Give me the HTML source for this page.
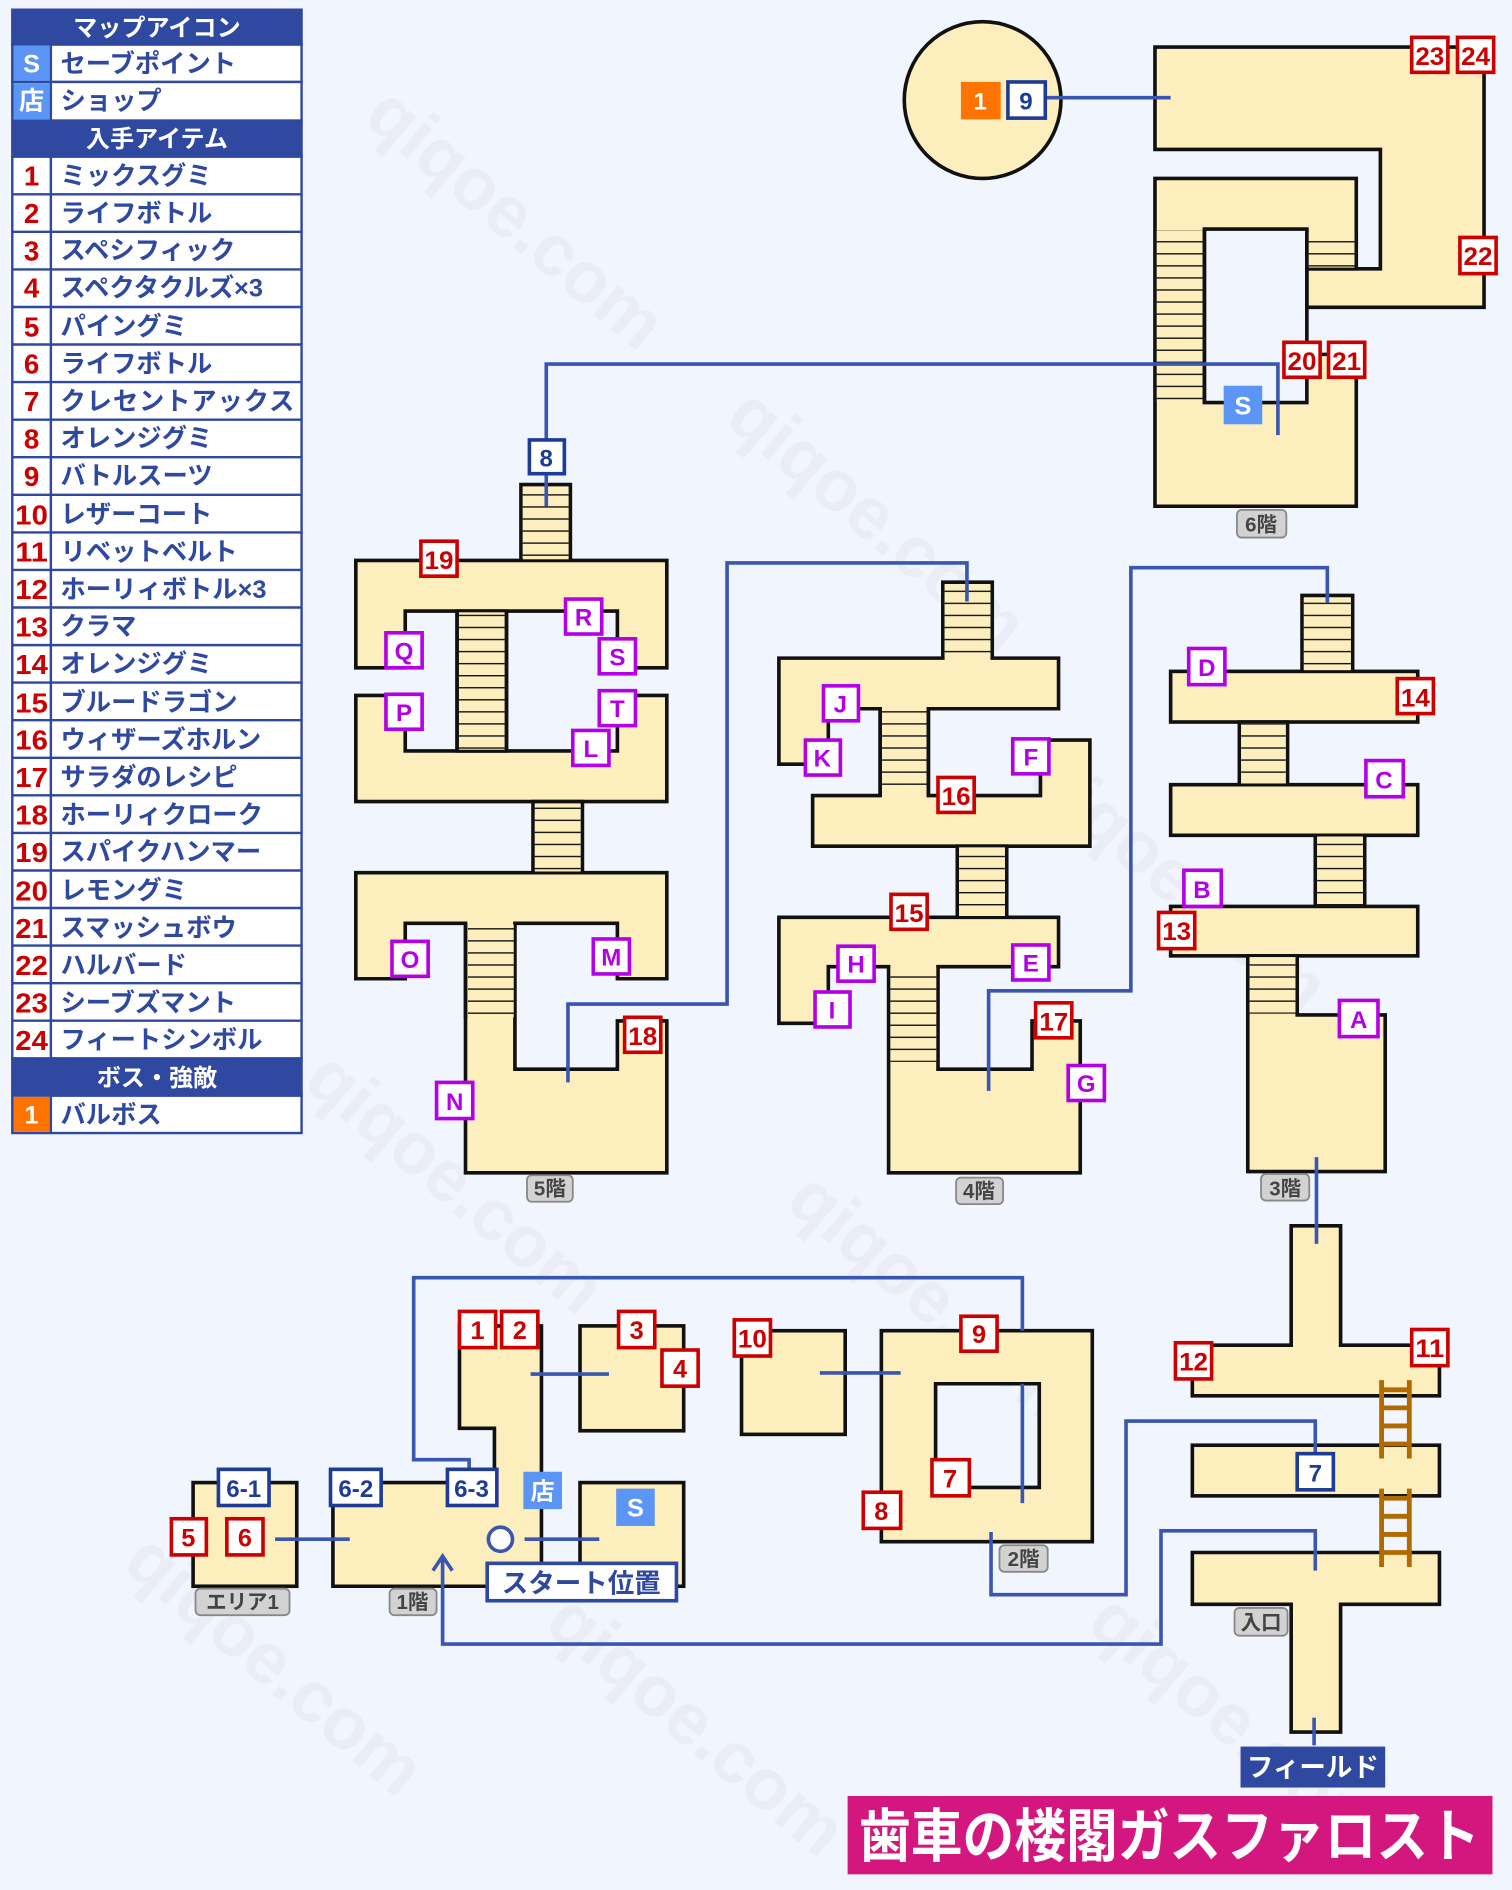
<!DOCTYPE html>
<html><head><meta charset="utf-8"><style>
html,body{margin:0;padding:0;background:#f0f5fe;}
svg{display:block;}
text{font-family:"Liberation Sans","Noto Sans CJK JP",sans-serif;font-weight:bold;}
</style></head><body>
<svg width="1512" height="1890" viewBox="0 0 1254 1568" xmlns="http://www.w3.org/2000/svg">
<defs>
<pattern id="st" patternUnits="userSpaceOnUse" width="10" height="10"><rect width="10" height="10" fill="#fdeebd"/><line x1="0" y1="0.5" x2="10" y2="0.5" stroke="#111" stroke-width="1.3"/></pattern>
</defs>
<rect width="1254" height="1568" fill="#f0f5fe"/>
<g fill="#e4e4ee" font-size="60" opacity="0.5">
<text transform="translate(300,100) rotate(40)">qiqoe.com</text>
<text transform="translate(600,350) rotate(40)">qiqoe.com</text>
<text transform="translate(850,650) rotate(40)">qiqoe.com</text>
<text transform="translate(250,900) rotate(40)">qiqoe.com</text>
<text transform="translate(650,1000) rotate(40)">qiqoe.com</text>
<text transform="translate(100,1300) rotate(40)">qiqoe.com</text>
<text transform="translate(450,1350) rotate(40)">qiqoe.com</text>
<text transform="translate(900,1350) rotate(40)">qiqoe.com</text>
</g>

<!-- LEGEND -->
<g stroke="#2f48a0" stroke-width="2">
<rect x="10" y="8" width="240" height="29" fill="#2f48a0"/>
<rect x="10" y="101" width="240" height="29" fill="#2f48a0"/>
<rect x="10" y="878" width="240" height="31" fill="#2f48a0"/>
</g>
<g font-size="20" fill="#fff" text-anchor="middle">
<text x="130" y="30">マップアイコン</text>
<text x="130" y="122">入手アイテム</text>
<text x="130" y="901">ボス・強敵</text>
</g>
<g stroke="#2f48a0" stroke-width="2" fill="#fff">
<rect x="10" y="37" width="240" height="31"/><rect x="10" y="68" width="240" height="32"/>
<rect x="10" y="909" width="240" height="31"/>
</g>
<rect x="11" y="38" width="30" height="29" fill="#5b95f5"/>
<rect x="11" y="69" width="30" height="30" fill="#5b95f5"/>
<rect x="11" y="910" width="30" height="29" fill="#ff7300"/>
<g stroke="#2f48a0" stroke-width="2"><line x1="42" y1="37" x2="42" y2="100"/><line x1="42" y1="909" x2="42" y2="940"/></g>
<g font-size="21" fill="#fff" text-anchor="middle"><text x="26" y="60">S</text><text x="26" y="91">店</text><text x="26" y="932">1</text></g>
<g font-size="21" fill="#2f48a0"><text x="50" y="60">セーブポイント</text><text x="50" y="91">ショップ</text><text x="50" y="932">バルボス</text></g>

<g stroke="#2f48a0" stroke-width="2" fill="#fff">
<rect x="10" y="130" width="240" height="748"/>
</g>
<g stroke="#2f48a0" stroke-width="2">
<line x1="42" y1="130" x2="42" y2="878"/>
<line x1="10" y1="161.2" x2="250" y2="161.2"/><line x1="10" y1="192.3" x2="250" y2="192.3"/><line x1="10" y1="223.5" x2="250" y2="223.5"/><line x1="10" y1="254.7" x2="250" y2="254.7"/><line x1="10" y1="285.8" x2="250" y2="285.8"/><line x1="10" y1="317" x2="250" y2="317"/><line x1="10" y1="348.2" x2="250" y2="348.2"/><line x1="10" y1="379.3" x2="250" y2="379.3"/><line x1="10" y1="410.5" x2="250" y2="410.5"/><line x1="10" y1="441.7" x2="250" y2="441.7"/><line x1="10" y1="472.8" x2="250" y2="472.8"/><line x1="10" y1="504" x2="250" y2="504"/><line x1="10" y1="535.2" x2="250" y2="535.2"/><line x1="10" y1="566.3" x2="250" y2="566.3"/><line x1="10" y1="597.5" x2="250" y2="597.5"/><line x1="10" y1="628.7" x2="250" y2="628.7"/><line x1="10" y1="659.8" x2="250" y2="659.8"/><line x1="10" y1="691" x2="250" y2="691"/><line x1="10" y1="722.2" x2="250" y2="722.2"/><line x1="10" y1="753.3" x2="250" y2="753.3"/><line x1="10" y1="784.5" x2="250" y2="784.5"/><line x1="10" y1="815.7" x2="250" y2="815.7"/><line x1="10" y1="846.8" x2="250" y2="846.8"/>
</g>
<g font-size="23" fill="#cc0000" text-anchor="middle">
<text x="26" y="154">1</text><text x="26" y="185">2</text><text x="26" y="216">3</text><text x="26" y="247">4</text><text x="26" y="279">5</text><text x="26" y="310">6</text><text x="26" y="341">7</text><text x="26" y="372">8</text><text x="26" y="403">9</text><text x="26" y="435" textLength="27" lengthAdjust="spacingAndGlyphs">10</text><text x="26" y="466" textLength="27" lengthAdjust="spacingAndGlyphs">11</text><text x="26" y="497" textLength="27" lengthAdjust="spacingAndGlyphs">12</text><text x="26" y="528" textLength="27" lengthAdjust="spacingAndGlyphs">13</text><text x="26" y="559" textLength="27" lengthAdjust="spacingAndGlyphs">14</text><text x="26" y="591" textLength="27" lengthAdjust="spacingAndGlyphs">15</text><text x="26" y="622" textLength="27" lengthAdjust="spacingAndGlyphs">16</text><text x="26" y="653" textLength="27" lengthAdjust="spacingAndGlyphs">17</text><text x="26" y="684" textLength="27" lengthAdjust="spacingAndGlyphs">18</text><text x="26" y="715" textLength="27" lengthAdjust="spacingAndGlyphs">19</text><text x="26" y="747" textLength="27" lengthAdjust="spacingAndGlyphs">20</text><text x="26" y="778" textLength="27" lengthAdjust="spacingAndGlyphs">21</text><text x="26" y="809" textLength="27" lengthAdjust="spacingAndGlyphs">22</text><text x="26" y="840" textLength="27" lengthAdjust="spacingAndGlyphs">23</text><text x="26" y="871" textLength="27" lengthAdjust="spacingAndGlyphs">24</text>
</g>
<g font-size="21" fill="#2f48a0">
<text x="50" y="153">ミックスグミ</text><text x="50" y="184">ライフボトル</text><text x="50" y="215">スペシフィック</text><text x="50" y="246">スペクタクルズ×3</text><text x="50" y="278">パイングミ</text><text x="50" y="309">ライフボトル</text><text x="50" y="340" textLength="194">クレセントアックス</text><text x="50" y="371">オレンジグミ</text><text x="50" y="402">バトルスーツ</text><text x="50" y="434">レザーコート</text><text x="50" y="465">リベットベルト</text><text x="50" y="496">ホーリィボトル×3</text><text x="50" y="527">クラマ</text><text x="50" y="558">オレンジグミ</text><text x="50" y="590">ブルードラゴン</text><text x="50" y="621">ウィザーズホルン</text><text x="50" y="652">サラダのレシピ</text><text x="50" y="683">ホーリィクローク</text><text x="50" y="714">スパイクハンマー</text><text x="50" y="746">レモングミ</text><text x="50" y="777">スマッシュボウ</text><text x="50" y="808">ハルバード</text><text x="50" y="839">シーブズマント</text><text x="50" y="870">フィートシンボル</text>
</g>

<!-- ROOMS -->
<g fill="#fdeebd" stroke="#111" stroke-width="3" stroke-linejoin="miter">
<circle cx="815" cy="83" r="65"/>
<polygon points="958,39 1231,39 1231,255 1084,255 1084,223 1145,223 1145,124 958,124"/>
<path fill-rule="evenodd" d="M958,148 H1125 V223 H1084 V294 H1125 V420 H958 Z M999,190 H1084 V334 H999 Z"/>
<rect x="432" y="402" width="41" height="63"/>
<polygon points="295,465 553,465 553,554 512,554 512,507 336,507 336,554 295,554"/>
<polygon points="295,577 336,577 336,623 512,623 512,577 553,577 553,665 295,665"/>
<rect x="379" y="507" width="41" height="116"/>
<rect x="442" y="665" width="41" height="59"/>
<polygon points="295,724 553,724 553,812 512,812 512,766 427,766 427,887 512,887 512,847 553,847 553,973 386,973 386,766 336,766 336,812 295,812"/>
<polygon points="646,546 782,546 782,483 823,483 823,546 878,546 878,588 770,588 770,660 863,660 863,614 904,614 904,702 674,702 674,660 730,660 730,588 687,588 687,634 646,634"/>
<rect x="794" y="702" width="41" height="59"/>
<polygon points="646,761 878,761 878,802 778,802 778,887 856,887 856,847 896,847 896,973 737,973 737,802 687,802 687,849 646,849"/>
<rect x="1080" y="494" width="42" height="63"/>
<rect x="971" y="557" width="205" height="42"/>
<rect x="1028" y="599" width="40" height="52"/>
<rect x="971" y="651" width="205" height="42"/>
<rect x="1091" y="693" width="41" height="59"/>
<rect x="971" y="752" width="205" height="41"/>
<polygon points="1035,793 1076,793 1076,842 1149,842 1149,972 1035,972"/>
<polygon points="1071,1017 1112,1017 1112,1116 1194,1116 1194,1158 989,1158 989,1116 1071,1116"/>
<rect x="989" y="1199" width="205" height="42"/>
<polygon points="989,1288 1194,1288 1194,1331 1112,1331 1112,1437 1071,1437 1071,1331 989,1331"/>
<rect x="615" y="1104" width="86" height="86"/>
<path fill-rule="evenodd" d="M731,1104 H906 V1279 H731 Z M776,1148 H862 V1234 H776 Z"/>
<rect x="481" y="1100" width="86" height="87"/>
<polygon points="381,1100 449,1100 449,1316 276,1316 276,1230 410,1230 410,1185 381,1185"/>
<rect x="481" y="1230" width="86" height="86"/>
<rect x="160" y="1230" width="86" height="86"/>
</g>
<g fill="url(#st)">
<rect x="433.5" y="404" width="38" height="60"/>
<rect x="380.5" y="508" width="38" height="114"/>
<rect x="443.5" y="667" width="38" height="56"/>
<rect x="388" y="767" width="38" height="77"/>
<rect x="783.5" y="485" width="38" height="60"/>
<rect x="731.5" y="589" width="37" height="70"/>
<rect x="795.5" y="703" width="38" height="57"/>
<rect x="738.5" y="803" width="38" height="78"/>
<rect x="1081.5" y="496" width="39" height="60"/>
<rect x="1029.5" y="600" width="37" height="50"/>
<rect x="1092.5" y="694" width="38" height="57"/>
<rect x="1036.5" y="794" width="38" height="47"/>
<rect x="959.5" y="191" width="38" height="142"/>
<rect x="1085.5" y="193" width="38" height="29"/>
</g>
<g stroke="#111" stroke-width="3">
<line x1="379" y1="507" x2="379" y2="623"/><line x1="420" y1="507" x2="420" y2="623"/>
<line x1="386" y1="766" x2="386" y2="845"/>
<line x1="730" y1="588" x2="730" y2="660"/><line x1="770" y1="588" x2="770" y2="660"/>
<line x1="999" y1="190" x2="999" y2="334"/><line x1="1084" y1="190" x2="1084" y2="224"/>
</g>
<g stroke="#b06a00" stroke-width="4">
<line x1="1146" y1="1145" x2="1146" y2="1210"/><line x1="1169" y1="1145" x2="1169" y2="1210"/>
<line x1="1146" y1="1153" x2="1169" y2="1153"/><line x1="1146" y1="1168" x2="1169" y2="1168"/><line x1="1146" y1="1183" x2="1169" y2="1183"/><line x1="1146" y1="1198" x2="1169" y2="1198"/>
<line x1="1146" y1="1235" x2="1146" y2="1300"/><line x1="1169" y1="1235" x2="1169" y2="1300"/>
<line x1="1146" y1="1243" x2="1169" y2="1243"/><line x1="1146" y1="1258" x2="1169" y2="1258"/><line x1="1146" y1="1273" x2="1169" y2="1273"/><line x1="1146" y1="1288" x2="1169" y2="1288"/>
</g>

<g fill="none" stroke="#3a56b0" stroke-width="3">
<line x1="866" y1="81" x2="971" y2="81"/>
<polyline points="453,420 453,302 1060,302 1060,361"/>
<polyline points="471,898 471,833 603,833 603,467 802,467 802,499"/>
<polyline points="820,905 820,822 938,822 938,471 1101,471 1101,500"/>
<line x1="1092" y1="960" x2="1092" y2="1032"/>
<line x1="1090" y1="1425" x2="1090" y2="1448"/>
<polyline points="1091,1205 1091,1179 934,1179 934,1323 822,1323 822,1271"/>
<polyline points="1091,1303 1091,1270 963,1270 963,1364 367,1364 367,1291"/>
<polyline points="359,1303 367,1291 375,1303"/>
<polyline points="389,1220 389,1211 343,1211 343,1060 848,1060 848,1104"/>
<line x1="848" y1="1148" x2="848" y2="1247"/>
<line x1="680" y1="1139" x2="747" y2="1139"/>
<line x1="440" y1="1140" x2="505" y2="1140"/>
<line x1="228" y1="1277" x2="290" y2="1277"/>
<line x1="435" y1="1277" x2="497" y2="1277"/>
</g>
<circle cx="415" cy="1277" r="10" fill="#fff" stroke="#3a56b0" stroke-width="3"/>

<g fill="#fff" stroke="#cc0000" stroke-width="3">
<rect x="1171" y="31" width="30" height="29"/><rect x="1209" y="31" width="30" height="29"/><rect x="1211" y="197" width="30" height="30"/>
<rect x="1065" y="284" width="30" height="29"/><rect x="1102" y="284" width="30" height="29"/>
<rect x="349" y="449" width="30" height="29"/><rect x="518" y="844" width="30" height="29"/>
<rect x="778" y="645" width="30" height="29"/><rect x="739" y="742" width="30" height="29"/><rect x="859" y="832" width="30" height="29"/>
<rect x="1159" y="563" width="30" height="29"/><rect x="961" y="757" width="30" height="30"/>
<rect x="975" y="1114" width="30" height="30"/><rect x="1171" y="1103" width="30" height="30"/>
<rect x="797" y="1092" width="30" height="29"/><rect x="609" y="1095" width="30" height="30"/><rect x="773" y="1211" width="31" height="30"/><rect x="716" y="1238" width="31" height="30"/>
<rect x="381" y="1088" width="30" height="30"/><rect x="416" y="1088" width="30" height="30"/><rect x="513" y="1088" width="30" height="30"/><rect x="549" y="1120" width="30" height="30"/>
<rect x="142" y="1260" width="29" height="30"/><rect x="188" y="1260" width="30" height="30"/>
</g>
<g fill="#cc0000" font-size="21" text-anchor="middle">
<text x="1186" y="54" textLength="24" lengthAdjust="spacingAndGlyphs">23</text><text x="1224" y="54" textLength="24" lengthAdjust="spacingAndGlyphs">24</text><text x="1226" y="220" textLength="24" lengthAdjust="spacingAndGlyphs">22</text>
<text x="1080" y="307" textLength="24" lengthAdjust="spacingAndGlyphs">20</text><text x="1117" y="307" textLength="24" lengthAdjust="spacingAndGlyphs">21</text>
<text x="364" y="472" textLength="24" lengthAdjust="spacingAndGlyphs">19</text><text x="533" y="867" textLength="24" lengthAdjust="spacingAndGlyphs">18</text>
<text x="793" y="668" textLength="24" lengthAdjust="spacingAndGlyphs">16</text><text x="754" y="765" textLength="24" lengthAdjust="spacingAndGlyphs">15</text><text x="874" y="855" textLength="24" lengthAdjust="spacingAndGlyphs">17</text>
<text x="1174" y="586" textLength="24" lengthAdjust="spacingAndGlyphs">14</text><text x="976" y="780" textLength="24" lengthAdjust="spacingAndGlyphs">13</text>
<text x="990" y="1137" textLength="24" lengthAdjust="spacingAndGlyphs">12</text><text x="1186" y="1126" textLength="24" lengthAdjust="spacingAndGlyphs">11</text>
<text x="812" y="1114">9</text><text x="624" y="1118" textLength="24" lengthAdjust="spacingAndGlyphs">10</text><text x="788" y="1234">7</text><text x="731" y="1261">8</text>
<text x="396" y="1111">1</text><text x="431" y="1111">2</text><text x="528" y="1111">3</text><text x="564" y="1143">4</text>
<text x="156" y="1283">5</text><text x="203" y="1283">6</text>
</g>

<g fill="#fff" stroke="#b400e6" stroke-width="3">
<rect x="320" y="525" width="30" height="29"/><rect x="469" y="497" width="30" height="29"/><rect x="497" y="530" width="30" height="29"/><rect x="497" y="573" width="30" height="29"/><rect x="320" y="576" width="30" height="29"/><rect x="475" y="606" width="30" height="29"/><rect x="325" y="781" width="30" height="29"/><rect x="492" y="779" width="30" height="29"/><rect x="362" y="898" width="30" height="30"/>
<rect x="683" y="569" width="29" height="29"/><rect x="668" y="614" width="29" height="29"/><rect x="840" y="613" width="30" height="29"/><rect x="695" y="785" width="30" height="29"/><rect x="840" y="784" width="30" height="29"/><rect x="676" y="823" width="29" height="29"/><rect x="886" y="884" width="30" height="29"/>
<rect x="986" y="538" width="30" height="30"/><rect x="1133" y="631" width="31" height="30"/><rect x="982" y="722" width="31" height="30"/><rect x="1111" y="830" width="32" height="30"/>
</g>
<g fill="#b400e6" font-size="20" text-anchor="middle">
<text x="335" y="547">Q</text><text x="484" y="519">R</text><text x="512" y="552">S</text><text x="512" y="595">T</text><text x="335" y="598">P</text><text x="490" y="628">L</text><text x="340" y="803">O</text><text x="507" y="801">M</text><text x="377" y="921">N</text>
<text x="697" y="591">J</text><text x="682" y="636">K</text><text x="855" y="635">F</text><text x="710" y="807">H</text><text x="855" y="806">E</text><text x="690" y="845">I</text><text x="901" y="906">G</text>
<text x="1001" y="561">D</text><text x="1148" y="654">C</text><text x="997" y="745">B</text><text x="1127" y="853">A</text>
</g>

<g fill="#fff" stroke="#1e3c96" stroke-width="3">
<rect x="836" y="68" width="31" height="30"/>
<rect x="439" y="365" width="29" height="28"/>
<rect x="1076" y="1206" width="30" height="30"/>
<rect x="181" y="1219" width="42" height="30"/><rect x="274" y="1219" width="42" height="30"/><rect x="371" y="1219" width="41" height="30"/>
</g>
<g fill="#1e3c96" font-size="20" text-anchor="middle">
<text x="851" y="91">9</text><text x="453" y="387">8</text><text x="1091" y="1229">7</text>
<text x="202" y="1242">6-1</text><text x="295" y="1242">6-2</text><text x="391" y="1242">6-3</text>
</g>
<rect x="797" y="68" width="33" height="31" fill="#ff7300"/>
<text x="813" y="91" fill="#fff" font-size="20" text-anchor="middle">1</text>
<rect x="1015" y="320" width="32" height="32" fill="#5b95f5"/><text x="1031" y="344" fill="#fff" font-size="21" text-anchor="middle">S</text>
<rect x="434" y="1221" width="32" height="31" fill="#5b95f5"/><text x="450" y="1244" fill="#fff" font-size="20" text-anchor="middle">店</text>
<rect x="511" y="1235" width="32" height="31" fill="#5b95f5"/><text x="527" y="1258" fill="#fff" font-size="21" text-anchor="middle">S</text>

<g fill="#d2d2d2" stroke="#888" stroke-width="1.5">
<rect x="1026" y="423" width="41" height="23" rx="4"/>
<rect x="437" y="975" width="38" height="22" rx="4"/>
<rect x="793" y="977" width="39" height="22" rx="4"/>
<rect x="1046" y="974" width="40" height="22" rx="4"/>
<rect x="829" y="1282" width="40" height="22" rx="4"/>
<rect x="1024" y="1334" width="44" height="23" rx="4"/>
<rect x="162" y="1318" width="78" height="22" rx="4"/>
<rect x="323" y="1318" width="39" height="22" rx="4"/>
</g>
<g fill="#444" font-size="17" text-anchor="middle">
<text x="1046" y="441">6階</text><text x="456" y="992">5階</text><text x="812" y="994">4階</text><text x="1066" y="992">3階</text><text x="849" y="1299">2階</text><text x="1046" y="1352">入口</text><text x="201" y="1335">エリア1</text><text x="342" y="1335">1階</text>
</g>
<rect x="404" y="1297" width="157" height="31" fill="#fff" stroke="#2f48a0" stroke-width="3"/>
<text x="482" y="1321" fill="#2f48a0" font-size="22" text-anchor="middle">スタート位置</text>
<rect x="1029" y="1449" width="120" height="34" fill="#2f48a0"/>
<text x="1089" y="1474" fill="#fff" font-size="22" text-anchor="middle">フィールド</text>
<rect x="703" y="1490" width="535" height="65" fill="#d4177e"/>
<text x="970" y="1540" fill="#fff" font-size="48" text-anchor="middle" textLength="515" lengthAdjust="spacingAndGlyphs">歯車の楼閣ガスファロスト</text>
</svg>
</body></html>
